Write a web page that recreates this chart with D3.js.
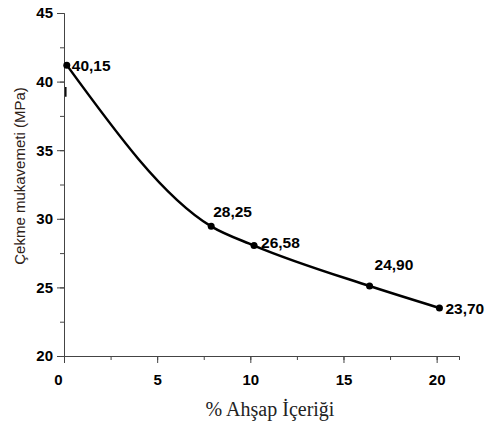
<!DOCTYPE html>
<html>
<head>
<meta charset="utf-8">
<script src="https://cdn.jsdelivr.net/npm/d3@7"></script>
<style>
  body { margin: 0; background: #fff; }
  .tick text { font-family: "Liberation Sans", Arial, sans-serif; font-weight: bold; font-size: 15px; fill: #000; }
  .axis path, .axis line { stroke: #444; }
</style>
</head>
<body>
<div class="chart"></div>
<script>
// wood content (%) and tensile strength (MPa)
var woodContent = [0.15, 7.9, 10.2, 16.4, 20.15];
var strength = [41.2, 29.45, 28.05, 25.1, 23.5];
var pointLabels = ["40,15", "28,25", "26,58", "24,90", "23,70"];
var xTicks = [0, 5, 10, 15, 20];
var yTicks = [20, 25, 30, 35, 40, 45];

var w = 486, h = 426;
var margin = {top: 13, right: 27, bottom: 70, left: 64};

var svg = d3.select("div.chart")
            .append("svg")
            .attr("width", w)
            .attr("height", h);

var x = d3.scaleLinear().domain([0, 21.2]).range([margin.left, margin.left + 395]);
var y = d3.scaleLinear().domain([20, 45]).range([356, margin.top]);

//minor ticks first so majors draw on top
svg.append("g")
    .attr("class", "axis")
    .attr("transform", "translate(0,356)")
    .call(d3.axisBottom(x).tickValues(d3.range(0, 21.2, 2.5)).tickSize(4).tickFormat(""));
svg.append("g")
    .attr("class", "axis")
    .attr("transform", "translate(64,0)")
    .call(d3.axisLeft(y).tickValues(d3.range(20, 45.1, 2.5)).tickSize(4).tickFormat(""));

var xAxis = svg.append("g")
    .attr("class", "axis")
    .attr("transform", "translate(0,356)")
    .call(d3.axisBottom(x).tickValues(xTicks).tickSize(7).tickSizeOuter(0).tickPadding(11));
// origin label sits a little left of its tick
xAxis.selectAll(".tick text").filter(d => d === 0).attr("dx", -6);

var yAxis = svg.append("g")
    .attr("class", "axis")
    .attr("transform", "translate(64,0)")
    .call(d3.axisLeft(y).tickValues(yTicks).tickSize(7).tickSizeOuter(0).tickPadding(4));

//smooth line through the points
var data = woodContent.map((d, i) => ({x: d, y: strength[i], label: pointLabels[i]}));

var line = d3.line()
    .x(d => x(d.x))
    .y(d => y(d.y))
    .curve(d3.curveMonotoneX);

svg.append("path")
    .datum(data)
    .attr("d", line)
    .attr("fill", "none")
    .attr("stroke", "#000")
    .attr("stroke-width", 2.5);

svg.selectAll(".dot")
    .data(data)
    .enter()
    .append("circle")
        .attr("class", "dot")
        .attr("cx", d => x(d.x))
        .attr("cy", d => y(d.y))
        .attr("r", 3.5)
        .attr("fill", "#000");

//small error mark under the first point
svg.append("line")
    .attr("x1", x(woodContent[0]) - 1).attr("x2", x(woodContent[0]) - 1)
    .attr("y1", y(39.6)).attr("y2", y(38.9))
    .attr("stroke", "#000").attr("stroke-width", 1.5);

var labelOffsets = [[5, 6], [2, -9], [7, 2], [5, -16], [6, 6]];
svg.selectAll(".pointLabel")
    .data(data)
    .enter()
    .append("text")
        .attr("class", "pointLabel")
        .attr("x", (d, i) => x(d.x) + labelOffsets[i][0])
        .attr("y", (d, i) => y(d.y) + labelOffsets[i][1])
        .style("font-family", "Liberation Sans, Arial, sans-serif")
        .style("font-weight", "bold")
        .style("font-size", "15.5px")
        .text(d => d.label);

//axis titles
svg.append("text")
    .attr("x", 270)
    .attr("y", 416)
    .attr("text-anchor", "middle")
    .style("font-family", "Liberation Serif, Times New Roman, serif")
    .style("font-size", "20px")
    .style("fill", "#222")
    .text("% Ahşap İçeriği");

svg.append("text")
    .attr("transform", "translate(25,176) rotate(-90)")
    .attr("text-anchor", "middle")
    .style("font-family", "Liberation Sans, Arial, sans-serif")
    .style("font-size", "15px")
    .style("fill", "#2e2218")
    .text("Çekme mukavemeti (MPa)");
</script>
</body>
</html>
